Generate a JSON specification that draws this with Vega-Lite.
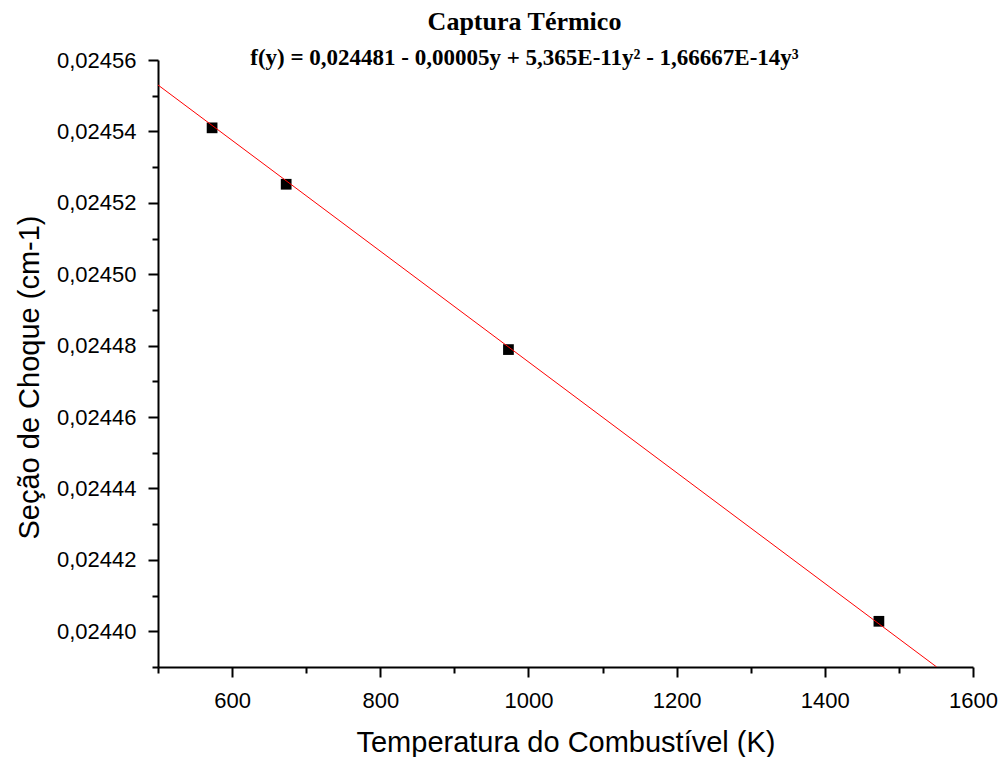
{
  "$schema": "https://vega.github.io/schema/vega-lite/v6.json",
  "width": 815,
  "height": 607,
  "autosize": {"type": "none"},
  "padding": {"left": 158, "top": 60, "right": 28, "bottom": 90},
  "background": "white",
  "title": {
    "text": "Captura Térmico",
    "subtitle": "f(y) = 0,024481 - 0,00005y + 5,365E-11y² - 1,66667E-14y³",
    "font": "Liberation Serif",
    "fontSize": 26,
    "fontWeight": "bold",
    "color": "black",
    "subtitleFont": "Liberation Serif",
    "subtitleFontSize": 23,
    "subtitleFontWeight": "bold",
    "subtitleColor": "black",
    "subtitlePadding": 12,
    "anchor": "middle",
    "frame": "group",
    "dx": -41,
    "offset": -21
  },
  "datasets": {
    "pontos": [
      {"temperatura": 573, "secao": 0.024541},
      {"temperatura": 673, "secao": 0.0245252},
      {"temperatura": 973, "secao": 0.0244789},
      {"temperatura": 1473, "secao": 0.0244028}
    ],
    "ajuste": [
      {"temperatura": 500, "secao": 0.024553},
      {"temperatura": 1551, "secao": 0.02439}
    ]
  },
  "resolve": {"axis": {"y": "independent"}},
  "layer": [
    {
      "data": {"name": "pontos"},
      "mark": {"type": "point", "shape": "square", "filled": true, "color": "black", "size": 115, "opacity": 1},
      "encoding": {
        "x": {
          "field": "temperatura",
          "type": "quantitative",
          "title": "Temperatura do Combustível (K)",
          "scale": {"domain": [500, 1600], "nice": false, "zero": false},
          "axis": {
            "values": [500, 600, 700, 800, 900, 1000, 1100, 1200, 1300, 1400, 1500, 1600],
            "labelExpr": "datum.value % 200 == 0 ? format(datum.value, 'd') : ''",
            "grid": false,
            "domainColor": "black",
            "domainWidth": 2,
            "tickColor": "black",
            "tickWidth": 2,
            "tickSize": {"condition": {"test": "datum.value % 200 == 0", "value": 10}, "value": 6},
            "labelFont": "Liberation Sans",
            "labelFontSize": 22,
            "labelColor": "black",
            "labelPadding": 13,
            "labelFlush": false,
            "labelOverlap": false,
            "titleFont": "Liberation Sans",
            "titleFontSize": 29,
            "titleFontWeight": "normal",
            "titleColor": "black",
            "titlePadding": 17
          }
        },
        "y": {
          "field": "secao",
          "type": "quantitative",
          "title": "Seção de Choque (cm-1)",
          "scale": {"domain": [0.02439, 0.02456], "nice": false, "zero": false},
          "axis": {
            "orient": "left",
            "values": [0.0244, 0.02442, 0.02444, 0.02446, 0.02448, 0.0245, 0.02452, 0.02454, 0.02456],
            "labelExpr": "replace(format(datum.value, '.5f'), '.', ',')",
            "grid": false,
            "domainColor": "black",
            "domainWidth": 2,
            "tickColor": "black",
            "tickWidth": 2,
            "tickSize": 10,
            "labelFont": "Liberation Sans",
            "labelFontSize": 22,
            "labelColor": "black",
            "labelPadding": 12,
            "labelOverlap": false,
            "labelFlush": false,
            "titleFont": "Liberation Sans",
            "titleFontSize": 29,
            "titleFontWeight": "normal",
            "titleColor": "black",
            "titleX": -120,
            "titleY": 317,
            "titleBaseline": "alphabetic",
            "titleAngle": -90
          }
        }
      }
    },
    {
      "data": {"name": "ajuste"},
      "mark": {"type": "line", "color": "#ff0000", "strokeWidth": 1, "clip": true},
      "encoding": {
        "x": {"field": "temperatura", "type": "quantitative"},
        "y": {
          "field": "secao",
          "type": "quantitative",
          "title": null,
          "axis": {
            "orient": "left",
            "values": [0.02439, 0.02441, 0.02443, 0.02445, 0.02447, 0.02449, 0.02451, 0.02453, 0.02455],
            "labels": false,
            "domain": false,
            "grid": false,
            "tickColor": "black",
            "tickWidth": 2,
            "tickSize": 6,
            "title": null
          }
        }
      }
    }
  ],
  "config": {"view": {"stroke": null}}
}
